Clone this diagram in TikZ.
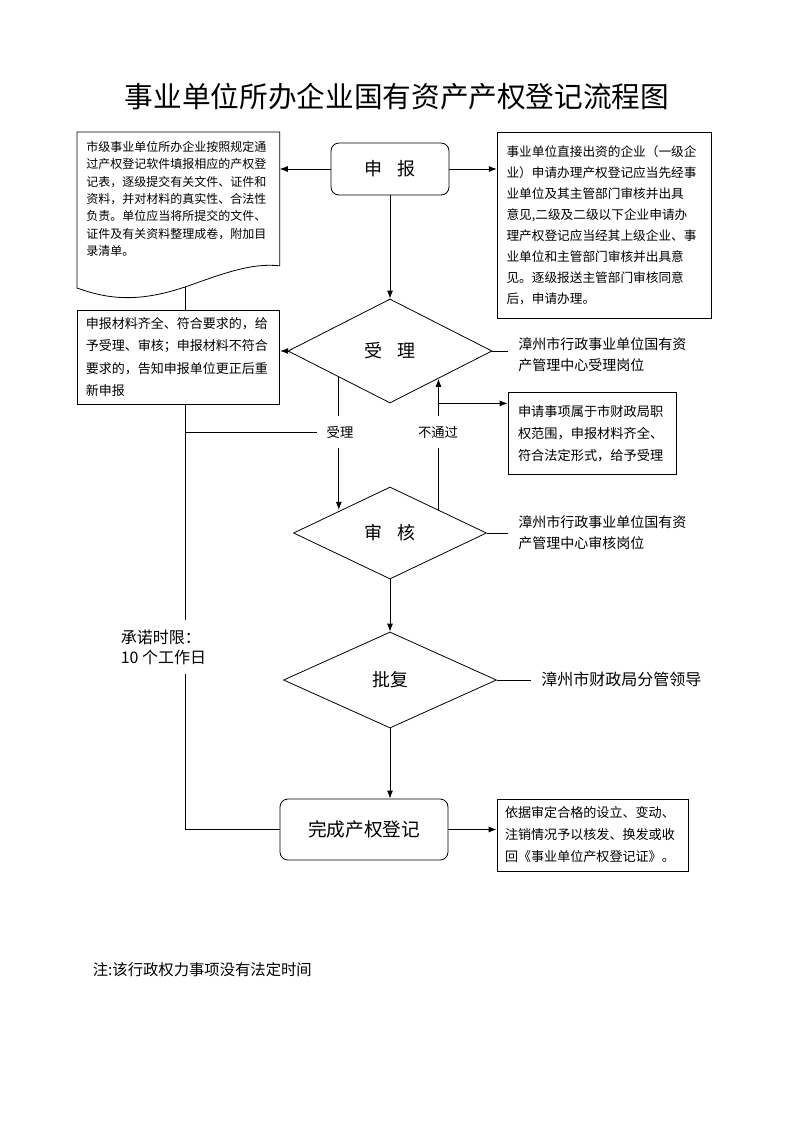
\documentclass[tikz,border=0pt]{standalone}
\usepackage{fontspec}
\setmainfont{Liberation Serif}
\newfontfamily\cjk{Noto Sans CJK SC}
\usetikzlibrary{shapes.geometric,arrows.meta,calc}

\begin{document}
\begin{tikzpicture}[
    x=0.75pt, y=-0.75pt,
    line width=0.6pt,
    font=\cjk,
    jiantou/.style={-{Latex[length=6pt,width=4.5pt]}},
    yuanjiao/.style={draw, rounded corners=6pt, inner sep=0pt,
      font={\cjk\fontsize{13.5}{16}\selectfont}},
    lingxing/.style={draw, diamond, inner sep=0pt,
      font={\cjk\fontsize{13.5}{16}\selectfont}},
    shuoming/.style={draw, align=left, inner ysep=0pt, text width=#1},
    biaozhu/.style={align=left, inner xsep=7.5pt,
      font={\cjk\fontsize{10.5}{15.75}\selectfont}},
    xiaobiao/.style={inner xsep=7pt, inner ysep=7pt,
      font={\cjk\fontsize{10}{12}\selectfont}}]
    % 页面范围
    \useasboundingbox (0,0) rectangle (793,1122);
    % 标题
    \node (biaoti) at (397,97) {\fontsize{21.5}{26}\selectfont 事业单位所办企业国有资产产权登记流程图};
    % 申报
    \node[yuanjiao, minimum width=88.5pt, minimum height=39pt] (shenbao) at (390,169) {申\hspace{0.8em}报};
    % 左侧材料说明(文件形状)
    \node[anchor=north west, align=left, inner xsep=6.75pt, inner ysep=0pt,
      text width=138pt, minimum height=99.75pt,
      font={\cjk\fontsize{9}{13}\selectfont}] (cailiao) at (77,132)
      {市级事业单位所办企业按照规定通\\过产权登记软件填报相应的产权登\\记表，逐级提交有关文件、证件和\\资料，并对材料的真实性、合法性\\负责。单位应当将所提交的文件、\\证件及有关资料整理成卷，附加目\\录清单。};
    \draw (cailiao.south east) -- (cailiao.north east) -- (cailiao.north west)
      -- ++(0,156) coordinate (bo1)
      .. controls +(33,12) and +(-45,15) .. ++(108,-1) coordinate (bo2)
      .. controls +(40,-14) and +(-29,-3) .. (cailiao.south east);
    % 右侧经办说明
    \node[shuoming=147pt, inner xsep=7pt, minimum height=140pt,
      font={\cjk\fontsize{9.5}{15.75}\selectfont}] (jingban) at (604.5,225.5)
      {事业单位直接出资的企业（一级企\\业）申请办理产权登记应当先经事\\业单位及其主管部门审核并出具\\意见,二级及二级以下企业申请办\\理产权登记应当经其上级企业、事\\业单位和主管部门审核并出具意\\见。逐级报送主管部门审核同意\\后，申请办理。};
    \draw[jiantou] (shenbao.west) -- (shenbao.west -| cailiao.east);
    \draw[jiantou] (shenbao.east) -- (shenbao.east -| jingban.west);
    % 受理
    \node[lingxing, minimum width=153pt, minimum height=78pt] (shouli) at (390,351) {受\hspace{0.8em}理};
    \draw[jiantou] (shenbao.south) -- (shouli.north);
    \node[shuoming=139pt, inner xsep=6.5pt, minimum height=70.5pt,
      font={\cjk\fontsize{9.75}{16.7}\selectfont}] (buqi) at (178.5,357)
      {申报材料齐全、符合要求的，给\\予受理、审核；申报材料不符合\\要求的，告知申报单位更正后重\\新申报};
    \draw[jiantou] (shouli.west) -- (shouli.west -| buqi.east);
    \node[biaozhu, anchor=west] (gangwei1) at (508,355) {漳州市行政事业单位国有资\\产管理中心受理岗位};
    \draw (shouli.east) -- (shouli.east -| gangwei1.west);
    % 审核
    \node[lingxing, minimum width=144.75pt, minimum height=69pt] (shenhe) at (390,533) {审\hspace{0.8em}核};
    \node[biaozhu, anchor=west] (gangwei2) at (508,533) {漳州市行政事业单位国有资\\产管理中心审核岗位};
    \draw (shenhe.east) -- (shenhe.east -| gangwei2.west);
    % 受理、不通过两条线
    \node[xiaobiao] (lab1) at (340,432) {受理};
    \node[xiaobiao] (lab2) at (438,432) {不通过};
    \draw (shouli.south west) -- (shouli.south west |- lab1.north);
    \draw[jiantou] (shouli.south west |- lab1.south) -- (shouli.south west |- shenhe.north west);
    \coordinate (fan) at ($(shouli.south)!0.47!(shouli.east)$);
    \draw (shenhe.north east) -- (shenhe.north east |- lab2.south);
    \draw[jiantou] (shenhe.north east |- lab2.north) -- (shenhe.north east |- fan);
    \node[shuoming=111pt, inner xsep=7.5pt, minimum height=62pt,
      font={\cjk\fontsize{9.9}{16.5}\selectfont}] (fuhe) at (592,433.5)
      {申请事项属于市财政局职\\权范围，申报材料齐全、\\符合法定形式，给予受理};
    \draw[jiantou] (shenhe.north east |- shouli.south) -- (shouli.south -| fuhe.west);
    % 批复
    \node[lingxing, minimum width=159.75pt, minimum height=72pt] (pifu) at (390,680) {批复};
    \draw[jiantou] (shenhe.south) -- (pifu.north);
    \node[anchor=west, inner xsep=7.5pt, font={\cjk\fontsize{12}{14}\selectfont}] (lingdao) at (531,679) {漳州市财政局分管领导};
    \draw (pifu.east) -- (pifu.east -| lingdao.west);
    % 完成产权登记
    \node[yuanjiao, minimum width=126pt, minimum height=45.75pt,
      font={\cjk\fontsize{14}{16}\selectfont}] (wancheng) at (364,829.5) {完成产权登记};
    \draw[jiantou] (pifu.south) -- (pifu.south |- wancheng.north);
    \node[shuoming=131.25pt, inner xsep=6pt, minimum height=54pt,
      font={\cjk\fontsize{9.8}{16.5}\selectfont}] (zhuxiao) at (592.5,835)
      {依据审定合格的设立、变动、\\注销情况予以核发、换发或收\\回《事业单位产权登记证》。};
    \draw[jiantou] (wancheng.east) -- (wancheng.east -| zhuxiao.west);
    % 左侧时限线
    \node[anchor=west, align=left, inner ysep=7pt,
      font={\cjk\fontsize{12}{15}\selectfont}] (chengnuo) at (116,647) {承诺时限：\\10 个工作日};
    \draw (bo2) -- (bo2 |- buqi.north);
    \draw (bo2 |- buqi.south) -- (bo2 |- chengnuo.north);
    \draw (bo2 |- chengnuo.south) -- (bo2 |- wancheng.west) -- (wancheng.west);
    \draw (bo2 |- lab1.west) -- (lab1.west);
    % 注
    \node[anchor=west, font={\cjk\fontsize{11.5}{14}\selectfont}] (zhu) at (88,970) {注:该行政权力事项没有法定时间};
\end{tikzpicture}
\end{document}
